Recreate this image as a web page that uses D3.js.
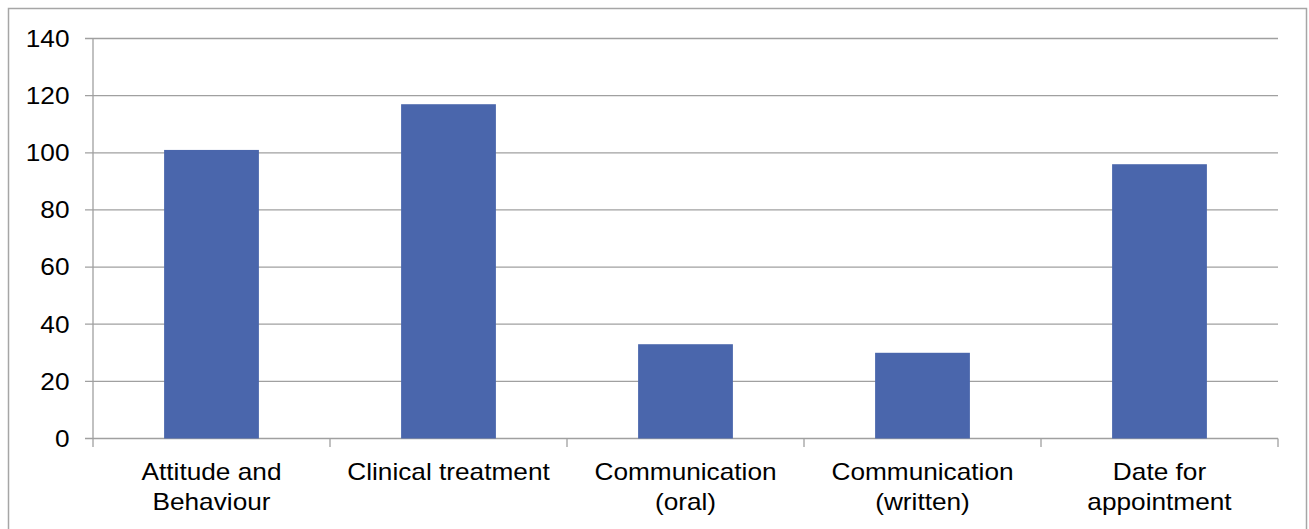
<!DOCTYPE html>
<html>
<head>
<meta charset="utf-8">
<script src="https://cdn.jsdelivr.net/npm/d3@7/dist/d3.min.js"></script>
<style>
  html, body { margin: 0; padding: 0; background: #fff; }
  svg { display: block; }
  text { font-family: "Liberation Sans", Arial, sans-serif; fill: #000; }
</style>
</head>
<body>
<svg id="chart" width="1309" height="529"></svg>
<script>
const categories = ["Attitude and Behaviour", "Clinical treatment", "Communication (oral)", "Communication (written)", "Date for appointment"];
const labelLines = [["Attitude and", "Behaviour"], ["Clinical treatment"], ["Communication", "(oral)"], ["Communication", "(written)"], ["Date for", "appointment"]];
const values = [101, 117, 33, 30, 96];
const yTicks = [0, 20, 40, 60, 80, 100, 120, 140];

(function () {
const svg = d3.select("#chart");
const pLeft = 93, pRight = 1278, pTop = 38.5, pBottom = 438.5;
const fontSize = 23, sx = 1.14;
const gridColor = "#a0a0a0";

// outer border
svg.append("rect").attr("x", 8.5).attr("y", 8.5).attr("width", 1298).attr("height", 540)
  .attr("fill", "#fff").attr("stroke", "#a6a6a6").attr("stroke-width", 1.5);

const x = d3.scaleBand().domain(categories).range([pLeft, pRight]).paddingInner(0.6).paddingOuter(0.3);
const y = d3.scaleLinear().domain([0, 140]).range([pBottom, pTop]);

// gridlines
svg.append("g").selectAll("line").data(yTicks).join("line")
  .attr("x1", pLeft - 8).attr("x2", pRight)
  .attr("y1", d => y(d)).attr("y2", d => y(d))
  .attr("stroke", gridColor).attr("stroke-width", 1.3);

// y axis line
svg.append("line").attr("x1", pLeft).attr("x2", pLeft).attr("y1", pTop).attr("y2", pBottom)
  .attr("stroke", gridColor).attr("stroke-width", 1.3);

// x category boundary ticks
const step = x.step();
const bounds = d3.range(categories.length + 1).map(i => pLeft + i * step);
svg.append("g").selectAll("line").data(bounds).join("line")
  .attr("x1", d => d).attr("x2", d => d).attr("y1", pBottom).attr("y2", pBottom + 8.5)
  .attr("stroke", gridColor).attr("stroke-width", 1.3);

// bars
svg.append("g").selectAll("rect").data(values).join("rect")
  .attr("x", (d, i) => x(categories[i]))
  .attr("width", x.bandwidth())
  .attr("y", d => y(d))
  .attr("height", d => y(0) - y(d))
  .attr("fill", "#4a66ac");

// y tick labels
svg.append("g").selectAll("text").data(yTicks).join("text")
  .attr("transform", d => `translate(69.5,${y(d)}) scale(${sx},1)`)
  .attr("text-anchor", "end").attr("dy", "0.36em")
  .attr("font-size", fontSize)
  .text(d => d);

// x labels
const xl = svg.append("g");
categories.forEach((c, i) => {
  const cx = x(c) + x.bandwidth() / 2;
  labelLines[i].forEach((line, j) => {
    xl.append("text")
      .attr("transform", `translate(${cx},${479.5 + j * 30}) scale(${sx},1)`)
      .attr("text-anchor", "middle")
      .attr("font-size", fontSize)
      .text(line);
  });
});
})();
</script>
</body>
</html>
